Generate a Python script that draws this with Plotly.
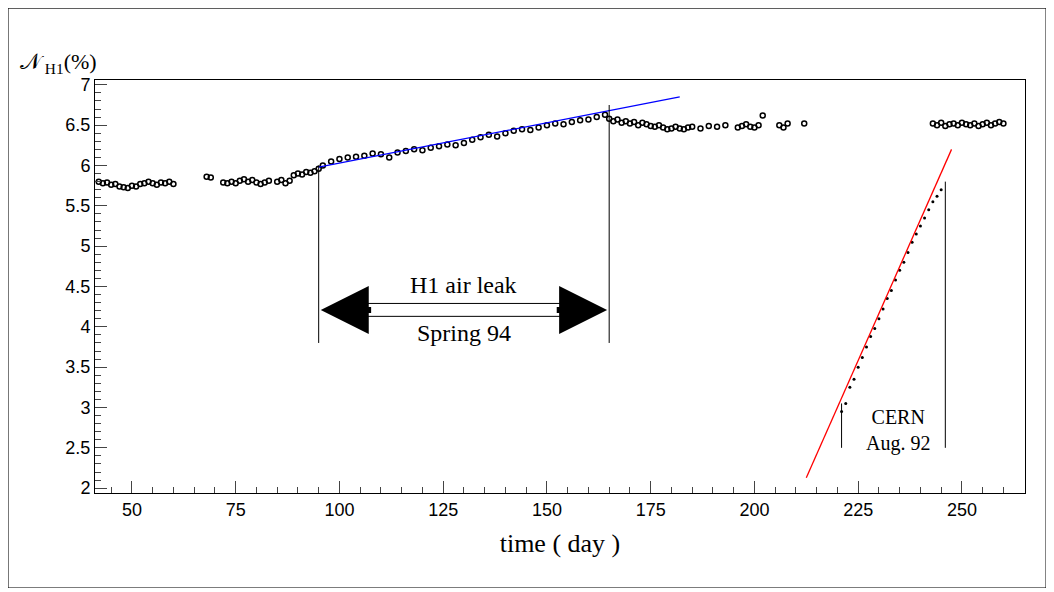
import plotly.graph_objects as go

# measured points (day, N_H1 %)
days_a = [42, 43, 44, 45, 46, 47, 48, 49, 50, 51, 52, 53, 54, 55, 56, 57, 58, 59, 60,
          68, 69, 72, 73, 74, 75, 76, 77, 78, 79, 80, 81, 82, 83, 85, 86, 87, 88,
          89, 90, 91, 92, 93, 94, 95]
vals_a = [5.80, 5.78, 5.79, 5.76, 5.77, 5.74, 5.73, 5.72, 5.75, 5.74, 5.77, 5.78, 5.80, 5.78, 5.76,
          5.79, 5.78, 5.80, 5.77, 5.86, 5.85, 5.79, 5.78, 5.80, 5.78, 5.81, 5.83, 5.80, 5.82, 5.79,
          5.77, 5.79, 5.81, 5.80, 5.82, 5.78, 5.81, 5.88, 5.90, 5.89, 5.92, 5.91, 5.93, 5.96]
days_b = [96, 98, 100, 102, 104, 106, 108, 110, 112, 114, 116, 118, 120, 122, 124, 126, 128, 130,
          132, 134, 136, 138, 140, 142, 144, 146, 148, 150, 152, 154, 156, 158, 160, 162, 164]
vals_b = [6.00, 6.05, 6.08, 6.10, 6.11, 6.12, 6.15, 6.14, 6.10, 6.16, 6.18, 6.20, 6.19, 6.22, 6.24,
          6.26, 6.25, 6.28, 6.32, 6.35, 6.38, 6.36, 6.40, 6.43, 6.45, 6.44, 6.47, 6.50, 6.52, 6.51,
          6.54, 6.56, 6.57, 6.60, 6.63]
days_c = [165, 166, 167, 168, 169, 170, 171, 172, 173, 174, 175, 176, 177, 178, 179, 180, 181, 182,
          183, 184, 185, 187, 189, 191, 193, 196, 197, 198, 199, 200, 201, 202, 206, 207, 208, 212,
          243, 244, 245, 246, 247, 248, 249, 250, 251, 252, 253, 254, 255, 256, 257, 258, 259, 260]
vals_c = [6.58, 6.55, 6.57, 6.53, 6.55, 6.52, 6.54, 6.50, 6.53, 6.51, 6.49, 6.48, 6.50, 6.47, 6.45,
          6.46, 6.48, 6.46, 6.45, 6.47, 6.48, 6.46, 6.49, 6.48, 6.50, 6.47, 6.49, 6.51, 6.48, 6.47,
          6.50, 6.62, 6.50, 6.47, 6.52, 6.52, 6.52, 6.50, 6.53, 6.49, 6.51, 6.52, 6.50, 6.53, 6.51,
          6.50, 6.52, 6.49, 6.51, 6.53, 6.50, 6.52, 6.54, 6.52]
days_cern = [221, 222, 223, 224, 225, 226, 227, 228, 229, 230, 231, 232, 233, 234, 235, 236, 237,
             238, 239, 240, 241, 242, 243, 244, 245]
vals_cern = [2.95, 3.05, 3.25, 3.35, 3.50, 3.62, 3.75, 3.88, 3.98, 4.10, 4.22, 4.35, 4.45, 4.58,
             4.70, 4.80, 4.92, 5.05, 5.15, 5.25, 5.35, 5.45, 5.55, 5.62, 5.70]
blue_x, blue_y = [95, 182], [5.98, 6.85]
red_x, red_y = [212.5, 247.5], [2.13, 6.2]

fig = go.Figure()
for dx, vy in [(days_a, vals_a), (days_b, vals_b), (days_c, vals_c)]:
    fig.add_trace(go.Scatter(x=dx, y=vy, mode='markers',
                             marker=dict(symbol='circle-open', size=5, color='black', line=dict(width=1.5))))
fig.add_trace(go.Scatter(x=days_cern, y=vals_cern, mode='markers',
                         marker=dict(size=3, color='black')))
fig.add_trace(go.Scatter(x=blue_x, y=blue_y, mode='lines', line=dict(color='blue', width=1.3)))
fig.add_trace(go.Scatter(x=red_x, y=red_y, mode='lines', line=dict(color='red', width=1.3)))

# vertical markers
for x0, y0, y1 in [(95, 3.8, 6.0), (165, 3.8, 6.75), (221, 2.5, 3.05), (246, 2.5, 5.8)]:
    fig.add_shape(type='line', x0=x0, x1=x0, y0=y0, y1=y1, line=dict(color='black', width=1))

# double arrow
fig.add_shape(type='line', x0=106, x1=154, y0=4.29, y1=4.29, line=dict(color='black', width=1))
fig.add_shape(type='line', x0=106, x1=154, y0=4.13, y1=4.13, line=dict(color='black', width=1))
for tip, tail in [(95.5, 108), (164.5, 152)]:
    fig.add_annotation(x=tip, y=4.21, ax=tail, ay=4.21, xref='x', yref='y', axref='x', ayref='y',
                       text='', showarrow=True, arrowhead=2, arrowsize=1.6, arrowwidth=6, arrowcolor='black')
serif = 'Liberation Serif'
fig.add_annotation(x=130, y=4.52, text='H1 air leak', showarrow=False,
                   font=dict(family=serif, size=24, color='black'))
fig.add_annotation(x=130, y=3.92, text='Spring 94', showarrow=False,
                   font=dict(family=serif, size=24, color='black'))
fig.add_annotation(x=234.5, y=2.72, text='CERN<br>Aug. 92', showarrow=False,
                   font=dict(family=serif, size=20, color='black'))
fig.add_annotation(x=-0.083, y=1.08, xref='paper', yref='paper', showarrow=False, xanchor='left',
                   text='𝒩<sub> H1</sub>(%)', font=dict(family=serif, size=22, color='black'))

fig.update_layout(
    width=1038, height=580, showlegend=False,
    plot_bgcolor='white', paper_bgcolor='white',
    margin=dict(l=87, r=21, t=72, b=95),
    font=dict(family='Liberation Sans', size=18, color='black'),
    xaxis=dict(range=[41.1, 265.2], tick0=50, dtick=25, ticks='inside', ticklen=12,
               minor=dict(dtick=5, ticks='inside', ticklen=6), showgrid=False, zeroline=False,
               showline=True, linecolor='black', mirror=True,
               title=dict(text='time ( day )', font=dict(family=serif, size=26))),
    yaxis=dict(range=[1.94, 7.06], tick0=2, dtick=0.5, ticks='inside', ticklen=12,
               minor=dict(dtick=0.1, ticks='inside', ticklen=6), showgrid=False, zeroline=False,
               showline=True, linecolor='black', mirror=True),
)
fig.add_shape(type='rect', xref='paper', yref='paper', x0=-0.0935, x1=1.0226, y0=-0.23, y1=1.174,
              line=dict(color='black', width=1))
fig.write_html("out.html")
